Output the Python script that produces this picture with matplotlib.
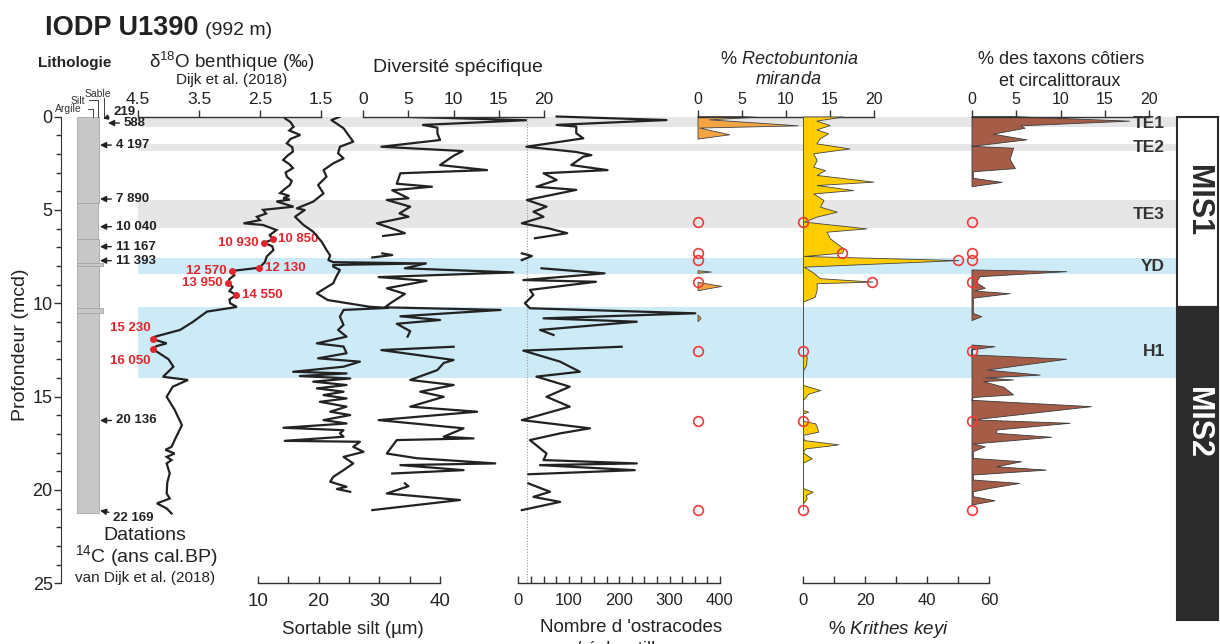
import numpy as np
import matplotlib
matplotlib.use('Agg')
import matplotlib.pyplot as plt
import matplotlib.transforms as mtrans

plt.rcParams['font.family'] = ['Liberation Sans', 'DejaVu Sans']
plt.rcParams['mathtext.fontset'] = 'custom'
plt.rcParams['mathtext.rm'] = 'Liberation Sans'
plt.rcParams['mathtext.it'] = 'Liberation Sans:italic'
plt.rcParams['mathtext.bf'] = 'Liberation Sans:bold'

nan = np.nan

# ---------------- data (depth in mcd, value) ----------------
d18o = [(0.10, 2.09), (0.30, 2.00), (0.55, 1.95), (0.75, 2.02), (0.99, 1.84), (1.20, 2.00),
        (1.44, 2.06), (1.65, 1.97), (1.88, 1.96), (2.10, 2.05), (2.33, 2.12), (2.55, 2.02),
        (2.76, 1.96), (3.00, 2.08), (3.22, 2.06), (3.45, 1.98), (3.67, 2.01), (3.90, 2.10),
        (4.10, 2.17), (4.25, 2.02), (4.37, 2.12), (4.45, 2.01), (4.55, 2.23), (4.83, 1.95),
        (5.00, 2.45), (5.20, 2.40), (5.37, 2.55), (5.55, 2.50), (5.72, 2.77), (5.81, 2.45),
        (6.08, 2.23), (6.35, 2.34), (6.58, 2.29), (6.76, 2.43), (6.95, 2.30), (7.15, 2.28),
        (7.50, 2.39), (7.80, 2.42), (8.10, 2.51), (8.27, 2.96), (8.50, 2.92), (8.70, 3.00),
        (8.90, 3.02), (9.13, 2.95), (9.35, 3.00), (9.56, 2.89), (9.80, 3.00), (10.00, 2.99),
        (10.20, 2.88), (10.45, 3.37), (11.00, 3.60), (11.43, 3.81), (11.79, 4.22), (11.93, 4.25),
        (12.15, 4.03), (12.30, 4.20), (12.47, 4.25), (13.00, 4.00), (13.40, 3.92), (13.94, 4.09),
        (14.11, 3.68), (14.47, 3.93), (15.01, 4.03), (15.70, 3.90), (16.53, 3.78), (17.20, 3.88),
        (17.69, 3.95), (17.85, 4.05), (18.05, 3.90), (18.23, 4.03), (18.40, 3.95), (18.58, 4.03),
        (19.12, 3.98), (19.60, 4.02), (20.19, 4.03), (20.46, 3.98), (20.72, 4.19), (20.99, 4.03),
        (21.26, 3.95)]

date_depth = [6.58, 6.76, 8.10, 8.27, 8.90, 9.56, 11.93, 12.47]
date_d18o = [2.29, 2.43, 2.51, 2.96, 3.02, 2.89, 4.25, 4.25]
date_label = ['10 850', '10 930', '12 130', '12 570', '13 950', '14 550', '15 230', '16 050']
date_side = ['r', 'l', 'r', 'l', 'l', 'r', 'lu', 'ld']

sortable_silt = [(0.01, 23.5), (0.19, 22.1), (0.63, 24.1), (1.35, 25.7), (1.62, 23.5), (1.97, 23.2),
                 (2.24, 24.1), (2.51, 22.4), (2.87, 20.8), (3.22, 21.3), (3.67, 19.9), (4.12, 20.8),
                 (4.56, 19.1), (4.92, 16.4), (5.01, 17.7), (5.37, 16.1), (5.81, 17.5), (6.17, 19.1),
                 (6.71, 20.5), (7.15, 21.3), (7.45, 21.9), (7.69, 21.6), (7.80, 22.4), (7.87, 37.5),
                 (7.95, 22.4), (8.04, 22.4), (8.22, 23.5), (8.58, 22.9), (8.93, 22.4), (9.47, 19.7),
                 (9.83, 21.5), (10.19, 28.4), (10.25, 31.5), (10.36, 24.1), (10.72, 23.5), (11.16, 24.1),
                 (11.43, 23.2), (11.79, 24.6), (12.15, 19.7), (12.32, 24.1), (12.68, 24.6), (12.95, 19.9),
                 (13.13, 26.8), (13.40, 24.1), (13.67, 15.8), (13.76, 24.6), (13.90, 16.9), (14.03, 25.2),
                 (14.20, 19.1), (14.38, 24.6), (14.56, 19.7), (14.74, 24.1), (14.92, 20.8), (15.10, 24.6),
                 (15.28, 20.2), (15.54, 24.6), (15.81, 21.9), (15.99, 25.2), (16.26, 20.8), (16.44, 24.6),
                 (16.67, 14.2), (16.80, 24.1), (16.97, 23.5), (17.15, 24.1), (17.37, 14.4), (17.42, 26.8),
                 (17.69, 25.7), (17.96, 27.4), (18.23, 24.1), (18.58, 25.7), (18.94, 24.1), (19.30, 22.4),
                 (19.56, 21.9), (19.83, 24.6), (19.95, 23.0), (20.10, 25.2)]

diversity = [(0.00, 3.5), (0.20, 18.0), (0.45, 6.6), (0.60, 8.2), (0.90, 8.2), (1.26, 8.5),
             (1.62, 2.0), (1.85, 11.0), (2.10, 10.0), (2.60, 8.5), (2.87, 13.7), (3.04, 4.1),
             (3.60, 3.7), (3.76, 7.6), (3.95, 3.2), (4.38, 5.0), (4.47, 2.6), (4.83, 5.2),
             (5.19, 4.0), (5.37, 5.0), (5.72, 1.5), (6.08, 3.7), (6.25, 4.6), (6.40, 2.2),
             (nan, nan), (7.33, 2.1), (7.42, 3.2), (7.55, 1.0), (nan, nan),
             (7.87, 6.9), (8.13, 4.6), (8.35, 16.6), (8.60, 1.7), (8.80, 7.0), (9.20, 2.6),
             (9.50, 4.6), (10.00, 3.0), (10.22, 2.4), (10.36, 15.2), (10.70, 4.1), (10.90, 8.5),
             (11.10, 3.7), (11.50, 5.2), (11.79, 4.9), (nan, nan),
             (12.33, 10.0), (12.51, 2.0), (13.04, 10.0), (13.20, 8.9), (13.58, 8.2), (14.11, 5.2),
             (14.38, 10.0), (14.74, 6.3), (15.01, 8.9), (15.54, 5.2), (15.81, 12.6), (16.26, 1.7),
             (16.70, 11.1), (17.15, 8.9), (17.24, 12.2), (17.33, 3.7), (18.05, 2.6), (18.30, 5.9),
             (18.58, 14.6), (18.67, 4.1), (18.94, 11.1), (19.12, 3.2), (nan, nan),
             (19.65, 4.6), (19.80, 5.0), (20.19, 2.6), (20.54, 10.7), (21.08, 1.0)]

ostracods = [(0.00, 76), (0.19, 294), (0.45, 76), (0.54, 115), (0.90, 115), (1.17, 129),
             (1.62, 16), (1.90, 115), (2.07, 145), (2.15, 129), (2.60, 105), (2.87, 177),
             (3.04, 50), (3.40, 76), (3.76, 36), (3.93, 115), (4.29, 50), (4.47, 17),
             (4.83, 56), (5.10, 30), (5.37, 50), (5.72, 7), (5.99, 60), (6.25, 97), (6.52, 33),
             (nan, nan), (7.33, 7), (7.47, 27), (7.69, 7), (nan, nan),
             (8.13, 46), (8.40, 171), (8.76, 10), (8.85, 154), (9.29, 23), (9.56, 30),
             (10.00, 13), (10.27, 23), (10.54, 351), (10.81, 50), (10.99, 235), (11.43, 43),
             (11.70, 70), (nan, nan),
             (12.33, 205), (12.54, 10), (13.13, 83), (13.67, 122), (13.93, 36), (14.47, 102),
             (15.01, 56), (15.54, 102), (16.26, 7), (16.70, 142), (16.97, 83), (17.33, 23),
             (18.05, 56), (18.40, 50), (18.58, 235), (18.67, 43), (18.94, 231), (19.16, 20),
             (nan, nan), (19.65, 20), (20.10, 63), (20.37, 30), (20.64, 83), (21.08, 7)]
ost_threshold = 17

rectobuntonia = [(0.00, 5.0), (0.04, 6.6), (0.18, 1.3), (0.50, 11.4), (0.62, 0.2), (0.98, 3.6),
                 (1.21, 0.0), (nan, nan), (8.26, 0.0), (8.33, 1.5), (8.40, 0.0), (nan, nan),
                 (8.88, 0.0), (9.10, 2.7), (9.33, 0.0), (nan, nan), (10.63, 0.0), (10.81, 0.35),
                 (10.99, 0.0)]

krithes = [(0.00, 12.9), (0.22, 4.3), (0.46, 8.6), (0.69, 4.3), (0.90, 8.1), (1.17, 5.4),
           (1.44, 4.3), (1.71, 15.0), (1.97, 3.3), (2.33, 4.4), (2.69, 3.3), (2.87, 7.1),
           (3.13, 4.4), (3.49, 22.7), (3.67, 4.4), (3.94, 16.2), (4.12, 3.3), (4.47, 6.6),
           (4.83, 5.5), (5.10, 10.9), (5.36, 4.4), (5.63, 0.3), (5.99, 20.5), (6.17, 7.6),
           (6.53, 8.7), (7.06, 13.0), (7.29, 12.7), (7.47, 0.3), (7.69, 50.1), (8.04, 0.3),
           (8.36, 3.3), (8.66, 5.5), (8.84, 22.4), (8.93, 4.4), (9.29, 4.4), (9.65, 3.8),
           (9.91, 0.0), (12.75, 0.0), (12.86, 1.2), (13.30, 1.0), (13.60, 0.0), (14.38, 0.0),
           (14.65, 5.5), (14.85, 1.7), (15.18, 0.0), (15.72, 0.0), (15.81, 1.7), (15.90, 0.0),
           (16.30, 0.0), (16.43, 3.9), (16.60, 4.4), (16.88, 4.9), (17.05, 0.0), (17.33, 0.3),
           (17.56, 11.4), (17.78, 0.6), (18.00, 0.0), (18.31, 2.8), (18.54, 0.0), (19.90, 0.0),
           (20.10, 3.1), (20.27, 0.9), (20.45, 1.2), (20.72, 0.0)]
krithes_base = 21.1

coastal = [(0.00, 4.5), (0.25, 17.8), (0.50, 5.5), (0.63, 6.0), (0.95, 2.4), (1.25, 6.2),
           (1.60, 0.0), (1.70, 4.7), (2.00, 4.5), (2.30, 4.3), (2.79, 4.9), (2.96, 0.15),
           (3.31, 0.15), (3.53, 3.4), (3.76, 0.0), (nan, nan),
           (8.22, 0.0), (8.31, 10.7), (8.58, 0.9), (8.90, 0.5), (9.20, 1.5), (9.35, 0.3),
           (9.49, 4.3), (9.73, 0.15), (10.55, 0.15), (10.72, 1.1), (10.93, 0.0), (nan, nan),
           (12.24, 0.0), (12.33, 2.6), (12.50, 0.0), (12.77, 0.0), (13.00, 10.7), (13.58, 1.7),
           (13.85, 7.7), (14.00, 1.5), (14.11, 4.7), (14.20, 1.3), (14.50, 3.6), (14.91, 4.7),
           (15.05, 0.15), (15.20, 0.0), (15.54, 13.5), (16.25, 0.15), (16.43, 11.1), (16.79, 2.8),
           (16.97, 2.8), (17.18, 9.0), (17.54, 0.15), (17.69, 1.5), (17.95, 0.15), (18.31, 0.15),
           (18.49, 5.6), (18.76, 2.8), (18.94, 8.4), (19.20, 0.15), (19.47, 0.15), (19.65, 5.4),
           (19.92, 2.0), (20.10, 0.15), (20.36, 0.15), (20.58, 2.6), (20.81, 0.0)]

circle_depth = [5.67, 7.29, 7.69, 8.84, 12.54, 16.29, 21.08]
circle_krithes = [0, 12.7, 50.1, 22.4, 0, 0, 0]

c14_depth = [0.35, 1.53, 4.42, 5.90, 6.97, 7.72, 16.28]
c14_label = ['588', '4 197', '7 890', '10 040', '11 167', '11 393', '20 136']

# lithology: top, base, grain-size index (Argile 1.6, Silt 2.1, Sable 2.7)
lith_top = [0.0, 4.65, 6.55, 7.85, 8.0, 10.25, 10.5]
lith_base = [4.65, 6.55, 7.85, 8.0, 10.25, 10.5, 21.25]
lith_grain = [2.2, 2.05, 2.2, 2.6, 2.2, 2.6, 2.2]
grain_class = ['Argile', 'Silt', 'Sable']
grain_pos = [1.6, 2.1, 2.7]

gray_bands = [(0.0, 0.58, 'TE1'), (1.47, 1.83, 'TE2'), (4.47, 5.97, 'TE3')]
blue_bands = [(7.56, 8.44, 'YD'), (10.22, 14.02, 'H1')]
band_label_depth = {'TE1': 0.35, 'TE2': 1.66, 'TE3': 5.25, 'YD': 8.06, 'H1': 12.56}

mis_stages = [(0.0, 10.2, 'MIS1'), (10.2, 26.97, 'MIS2')]


def split(pairs):
    a = np.array(pairs, dtype=float)
    return a[:, 0], a[:, 1]


# ---------------- layout ----------------
W, H = 1220, 644
DARK = '#222222'
RED = '#e0262c'
fig = plt.figure(figsize=(W / 100, H / 100), dpi=100)
fig.patch.set_facecolor('white')


def ax_px(x0, x1, y0=116.5, y1=583.3):
    ax = fig.add_axes([x0 / W, 1 - y1 / H, (x1 - x0) / W, (y1 - y0) / H])
    ax.patch.set_alpha(0)
    ax.set_ylim(25, 0)
    return ax


def ftxt(x, y, s, **kw):
    kw.setdefault('color', DARK)
    return fig.text(x / W, 1 - y / H, s, **kw)


def strat_axis(x0, x1, lim, ticks, labels, side, fs=12.5):
    ax = ax_px(x0, x1)
    ax.set_xlim(*lim)
    for s in ax.spines:
        ax.spines[s].set_visible(s == side)
    ax.spines[side].set_color('#333333')
    ax.spines[side].set_linewidth(1.0)
    ax.set_yticks([])
    if side == 'top':
        ax.xaxis.tick_top()
    ax.set_xticks(ticks)
    ax.set_xticklabels(labels)
    ax.tick_params(axis='x', direction='out' if side == 'top' else 'in', length=5, width=1,
                   color='#333333', labelcolor=DARK, labelsize=fs, pad=2 if side == 'top' else 7)
    return ax


# background bands
ax_band = ax_px(138, 1176)
ax_band.set_xlim(0, 1)
ax_band.axis('off')
for top, base, name in gray_bands:
    ax_band.axhspan(top, base, color='#e6e6e6', lw=0, zorder=0)
for top, base, name in blue_bands:
    ax_band.axhspan(top, base, color='#cdeaf7', lw=0, zorder=0)
tb = mtrans.blended_transform_factory(ax_band.transAxes, ax_band.transData)
for name, dep in band_label_depth.items():
    ax_band.text(0.9894, dep, name, transform=tb, ha='right', va='center',
                 fontsize=12.5, fontweight='bold', color='#333333')

# depth axis
ax_dep = ax_px(61, 75)
for s in ax_dep.spines:
    ax_dep.spines[s].set_visible(s == 'left')
ax_dep.spines['left'].set_color('#333333')
ax_dep.set_xticks([])
ax_dep.set_yticks(np.arange(0, 26, 5))
ax_dep.set_yticks(np.arange(0, 26, 1), minor=True)
ax_dep.tick_params(axis='y', which='major', length=5, width=1, color='#333333', labelsize=13,
                   labelcolor=DARK, pad=1)
ax_dep.tick_params(axis='y', which='minor', length=3.5, width=1, color='#333333')
ftxt(21, 345, 'Profondeur (mcd)', rotation=90, ha='center', va='center', fontsize=14)

# lithology + 14C datings
ax_lith = ax_px(77, 137)
ax_lith.set_xlim(0, 6)
ax_lith.axis('off')
lt = np.array(lith_top)
lb = np.array(lith_base)
ax_lith.barh((lt + lb) / 2, lith_grain, height=lb - lt, left=0, color='#c8c8c8',
             edgecolor='#a5a5a5', linewidth=0.6)
arrow_kw = dict(arrowstyle='-|>', color=DARK, lw=1.0, mutation_scale=9, shrinkA=1, shrinkB=0)
ax_lith.annotate('219', xy=(2.6, 0.12), xytext=(3.6, -0.22), ha='left', va='center',
                 fontsize=9.5, fontweight='bold', color=DARK, annotation_clip=False,
                 arrowprops=dict(arrow_kw, mutation_scale=7))
for dep, lab in zip(c14_depth, c14_label):
    tip = 3.1 if lab == '588' else 2.3
    ax_lith.annotate(lab, xy=(tip, dep), xytext=(tip + 1.55, dep), ha='left', va='center',
                     fontsize=9.5, fontweight='bold', color=DARK, annotation_clip=False,
                     arrowprops=arrow_kw)
ax_lith.annotate('22 169', xy=(2.3, 21.1), xytext=(3.6, 21.48), ha='left', va='center',
                 fontsize=9.5, fontweight='bold', color=DARK, annotation_clip=False,
                 arrowprops=arrow_kw)
# grain-size header ticks
head_y = [-0.4, -0.88, -1.0]
for name, gx, hy, dx in zip(grain_class, grain_pos, head_y, [-0.95, -1.3, -0.6]):
    ax_lith.plot([gx, gx], [hy, 0], color='#444444', lw=0.7, clip_on=False)
    if name != 'Sable':
        ax_lith.plot([gx + dx + 0.4, gx], [hy, hy], color='#444444', lw=0.7, clip_on=False)
ax_lith.text(0.5, -0.4, 'Argile', ha='right', va='center', fontsize=7.5, color='#333333')
ax_lith.text(0.8, -0.82, 'Silt', ha='right', va='center', fontsize=7.5, color='#333333')
ax_lith.text(2.1, -1.23, 'Sable', ha='center', va='center', fontsize=7.5, color='#333333')

ftxt(75, 63, 'Lithologie', ha='center', va='center', fontsize=11, fontweight='bold')
ftxt(145, 535, 'Datations', ha='center', va='center', fontsize=14)
ftxt(146, 556, r'$^{14}$C (ans cal.BP)', ha='center', va='center', fontsize=14)
ftxt(145, 578, 'van Dijk et al. (2018)', ha='center', va='center', fontsize=11)

# d18O benthic
ax_d18 = strat_axis(138, 321, (4.5, 1.5), [4.5, 3.5, 2.5, 1.5], ['4.5', '3.5', '2.5', '1.5'], 'top')
dd, dv = split(d18o)
ax_d18.plot(dv, dd, color=DARK, lw=1.6, solid_joinstyle='miter')
ax_d18.plot(date_d18o, date_depth, 'o', ms=4, color=RED, zorder=5)
offs = {'r': ((4, 0), 'left', 'center'), 'l': ((-4, 0), 'right', 'center'),
        'lu': ((-2, 4), 'right', 'bottom'), 'ld': ((-2, -4), 'right', 'top')}
for dep, val, lab, side in zip(date_depth, date_d18o, date_label, date_side):
    off, ha, va = offs[side]
    ax_d18.annotate(lab, xy=(val, dep), xytext=off, textcoords='offset points', ha=ha, va=va,
                    fontsize=9.5, fontweight='bold', color=RED)
ftxt(232, 62, r'δ$^{18}$O benthique (‰)', ha='center', va='center', fontsize=13.5)
ftxt(232, 80, 'Dijk et al. (2018)', ha='center', va='center', fontsize=11)

# sortable silt
ax_ss = strat_axis(258, 440, (10, 40), np.arange(10, 41, 5), ['10', '', '20', '', '30', '', '40'],
                   'bottom', fs=13.5)
sd, sv = split(sortable_silt)
ax_ss.plot(sv, sd, color=DARK, lw=1.6)
ftxt(353, 630, 'Sortable silt (µm)', ha='center', va='center', fontsize=13.5)

# diversity
ax_div = strat_axis(363.3, 544, (0, 20), np.arange(0, 21, 5), ['0', '5', '10', '15', '20'], 'top')
vd, vv = split(diversity)
ax_div.plot(vv, vd, color=DARK, lw=1.6)
ftxt(458, 67, 'Diversité spécifique', ha='center', va='center', fontsize=14)

# ostracod counts
ax_ost = strat_axis(518.3, 720, (0, 400), np.arange(0, 401, 25),
                    [str(t) if t % 100 == 0 else '' for t in range(0, 401, 25)], 'bottom', fs=12)
od, ov = split(ostracods)
ax_ost.axvline(ost_threshold, color='#999999', ls=(0, (1, 1.5)), lw=0.8, zorder=1)
ax_ost.plot(ov, od, color=DARK, lw=1.6, clip_on=False)
ftxt(631, 628, "Nombre d 'ostracodes", ha='center', va='center', fontsize=13.5)
ftxt(631, 650, "/ échantillons", ha='center', va='center', fontsize=13.5)

# Rectobuntonia miranda
ax_rec = strat_axis(698, 874, (0, 20), np.arange(0, 21, 5), ['0', '5', '10', '15', '20'], 'top', fs=11.5)
rd, rv = split(rectobuntonia)
ax_rec.fill_betweenx(rd, 0, rv, facecolor='#f4a542', edgecolor='#444444', lw=0.6, clip_on=False)
ax_rec.plot(np.zeros(len(circle_depth)), circle_depth, 'o', ms=7, mfc='none', mec='#ee3b3b',
            mew=1.2, clip_on=False, zorder=5)
ftxt(789, 59, r'% $\mathit{Rectobuntonia}$', ha='center', va='center', fontsize=13)
ftxt(788, 80, r'$\mathit{miranda}$', ha='center', va='center', fontsize=13)

# Krithes keyi
ax_kri = strat_axis(803, 989, (0, 60), np.arange(0, 61, 10), ['0', '', '20', '', '40', '', '60'],
                    'bottom', fs=12)
kd, kv = split(krithes)
ax_kri.fill_betweenx(kd, 0, kv, facecolor='#ffcc00', edgecolor='#444444', lw=0.6, clip_on=False)
ax_kri.vlines(0, 0, krithes_base, color='#555555', lw=1.1)
ax_kri.plot(circle_krithes, circle_depth, 'o', ms=7, mfc='none', mec='#ee3b3b', mew=1.2,
            clip_on=False, zorder=5)
ftxt(889, 630, r'% $\mathit{Krithes\ keyi}$', ha='center', va='center', fontsize=13.5)

# coastal + circalittoral taxa
ax_coa = strat_axis(972, 1149, (0, 20), np.arange(0, 21, 5), ['0', '5', '10', '15', '20'], 'top', fs=11.5)
cd, cv = split(coastal)
ax_coa.fill_betweenx(cd, 0, cv, facecolor='#a65d48', edgecolor='#3a3a3a', lw=0.6, clip_on=False)
ax_coa.plot(np.zeros(len(circle_depth)), circle_depth, 'o', ms=7, mfc='none', mec='#ee3b3b',
            mew=1.2, clip_on=False, zorder=5)
ftxt(1061, 59, '% des taxons côtiers', ha='center', va='center', fontsize=13)
ftxt(1060, 81, 'et circalittoraux', ha='center', va='center', fontsize=13)

# MIS column
ax_mis = fig.add_axes([1177 / W, 1 - 620 / H, 41 / W, (620 - 116.5) / H])
ax_mis.set_xlim(0, 1)
ax_mis.set_ylim(mis_stages[-1][1], 0)
ax_mis.axis('off')
for (top, base, name), fc, tc in zip(mis_stages, ['white', '#2b2b2b'], ['#2b2b2b', 'white']):
    ax_mis.bar(0.5, base - top, bottom=top, width=1, color=fc, edgecolor='#2b2b2b', lw=1.5,
               clip_on=False)
ax_mis.text(0.5, 4.5, 'MIS1', rotation=-90, ha='center', va='center', fontsize=22,
            fontweight='bold', color='#2b2b2b')
ax_mis.text(0.5, 16.4, 'MIS2', rotation=-90, ha='center', va='center', fontsize=22,
            fontweight='bold', color='white')

# title
ftxt(45, 35, 'IODP U1390', fontsize=19.5, fontweight='bold', va='baseline')
ftxt(205, 35, '(992 m)', fontsize=14, va='baseline')

fig.savefig('out.png', dpi=100)
